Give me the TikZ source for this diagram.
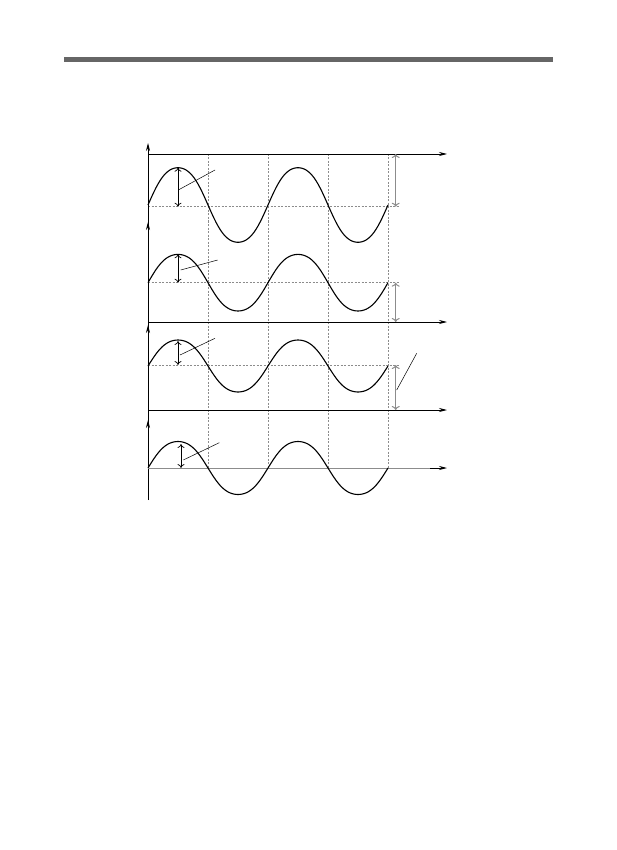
\documentclass[tikz,border=0pt]{standalone}
\usetikzlibrary{arrows.meta}
\begin{document}
\begin{tikzpicture}[x=1pt,y=-1pt,
 axis/.style={line width=0.8pt,-{Stealth[length=8pt,width=4pt]}},
 gridline/.style={black!45,line width=0.5pt,dash pattern=on 2pt off 1.5pt},
 wave/.style={line width=1.1pt},
 amp/.style={line width=0.7pt,{To[length=4pt,width=7pt]}-{To[length=4pt,width=7pt]}},
 ramp/.style={black!45,line width=1pt,{To[length=4pt,width=8pt]}-{To[length=4pt,width=8pt]}},
 leader/.style={line width=0.5pt}]
\useasboundingbox (0,0) rectangle (617,850);
\fill[black!60] (64,57) rectangle (553,62);
% grid
\foreach \x in {208,268,328,388} \draw[gridline] (\x,154) -- (\x,468);
\draw[gridline] (148,206.7) -- (400,206.7);
\draw[gridline] (148,282.7) -- (400,282.7);
\draw[gridline] (148,365) -- (400,365);
% axes
\draw[axis] (148,500) -- (148,143);
\draw[axis] (148,240) -- (148,222);
\draw[axis] (148,345) -- (148,325);
\draw[axis] (148,440) -- (148,420);
\draw[axis] (148,154) -- (447,154);
\draw[axis] (148,322) -- (447,322);
\draw[axis] (148,410) -- (447,410);
\draw[black!45,line width=0.8pt] (148,468) -- (440,468);
\draw[axis] (430,468) -- (447,468);
% waves (slightly broadened sine)
\foreach \b/\a in {205/37.3,282.7/28.3,366/26,468/26.5}
  \draw[wave] plot[domain=0:240,samples=121]
    ({148+\x},{\b-\a*(sin(3*\x)+sin(9*\x)/25)/0.96});
% amplitude arrows
\draw[amp] (178,167.7) -- (178,206.7);
\draw[amp] (178,254.3) -- (178,282.7);
\draw[amp] (178,341) -- (178,365);
\draw[amp] (181,444) -- (181,468);
\draw[ramp] (395.7,154) -- (395.7,206.7);
\draw[ramp] (395.7,282.7) -- (395.7,322);
\draw[ramp] (395.7,365) -- (395.7,410);
% leaders
\draw[leader] (178.3,190) -- (215,170);
\draw[leader] (180.7,270) -- (217.7,260);
\draw[leader] (180,355) -- (215,338.3);
\draw[leader] (183.3,460) -- (219.3,442.7);
\draw[leader] (396.7,390) -- (416.7,353.3);
\end{tikzpicture}
\end{document}
